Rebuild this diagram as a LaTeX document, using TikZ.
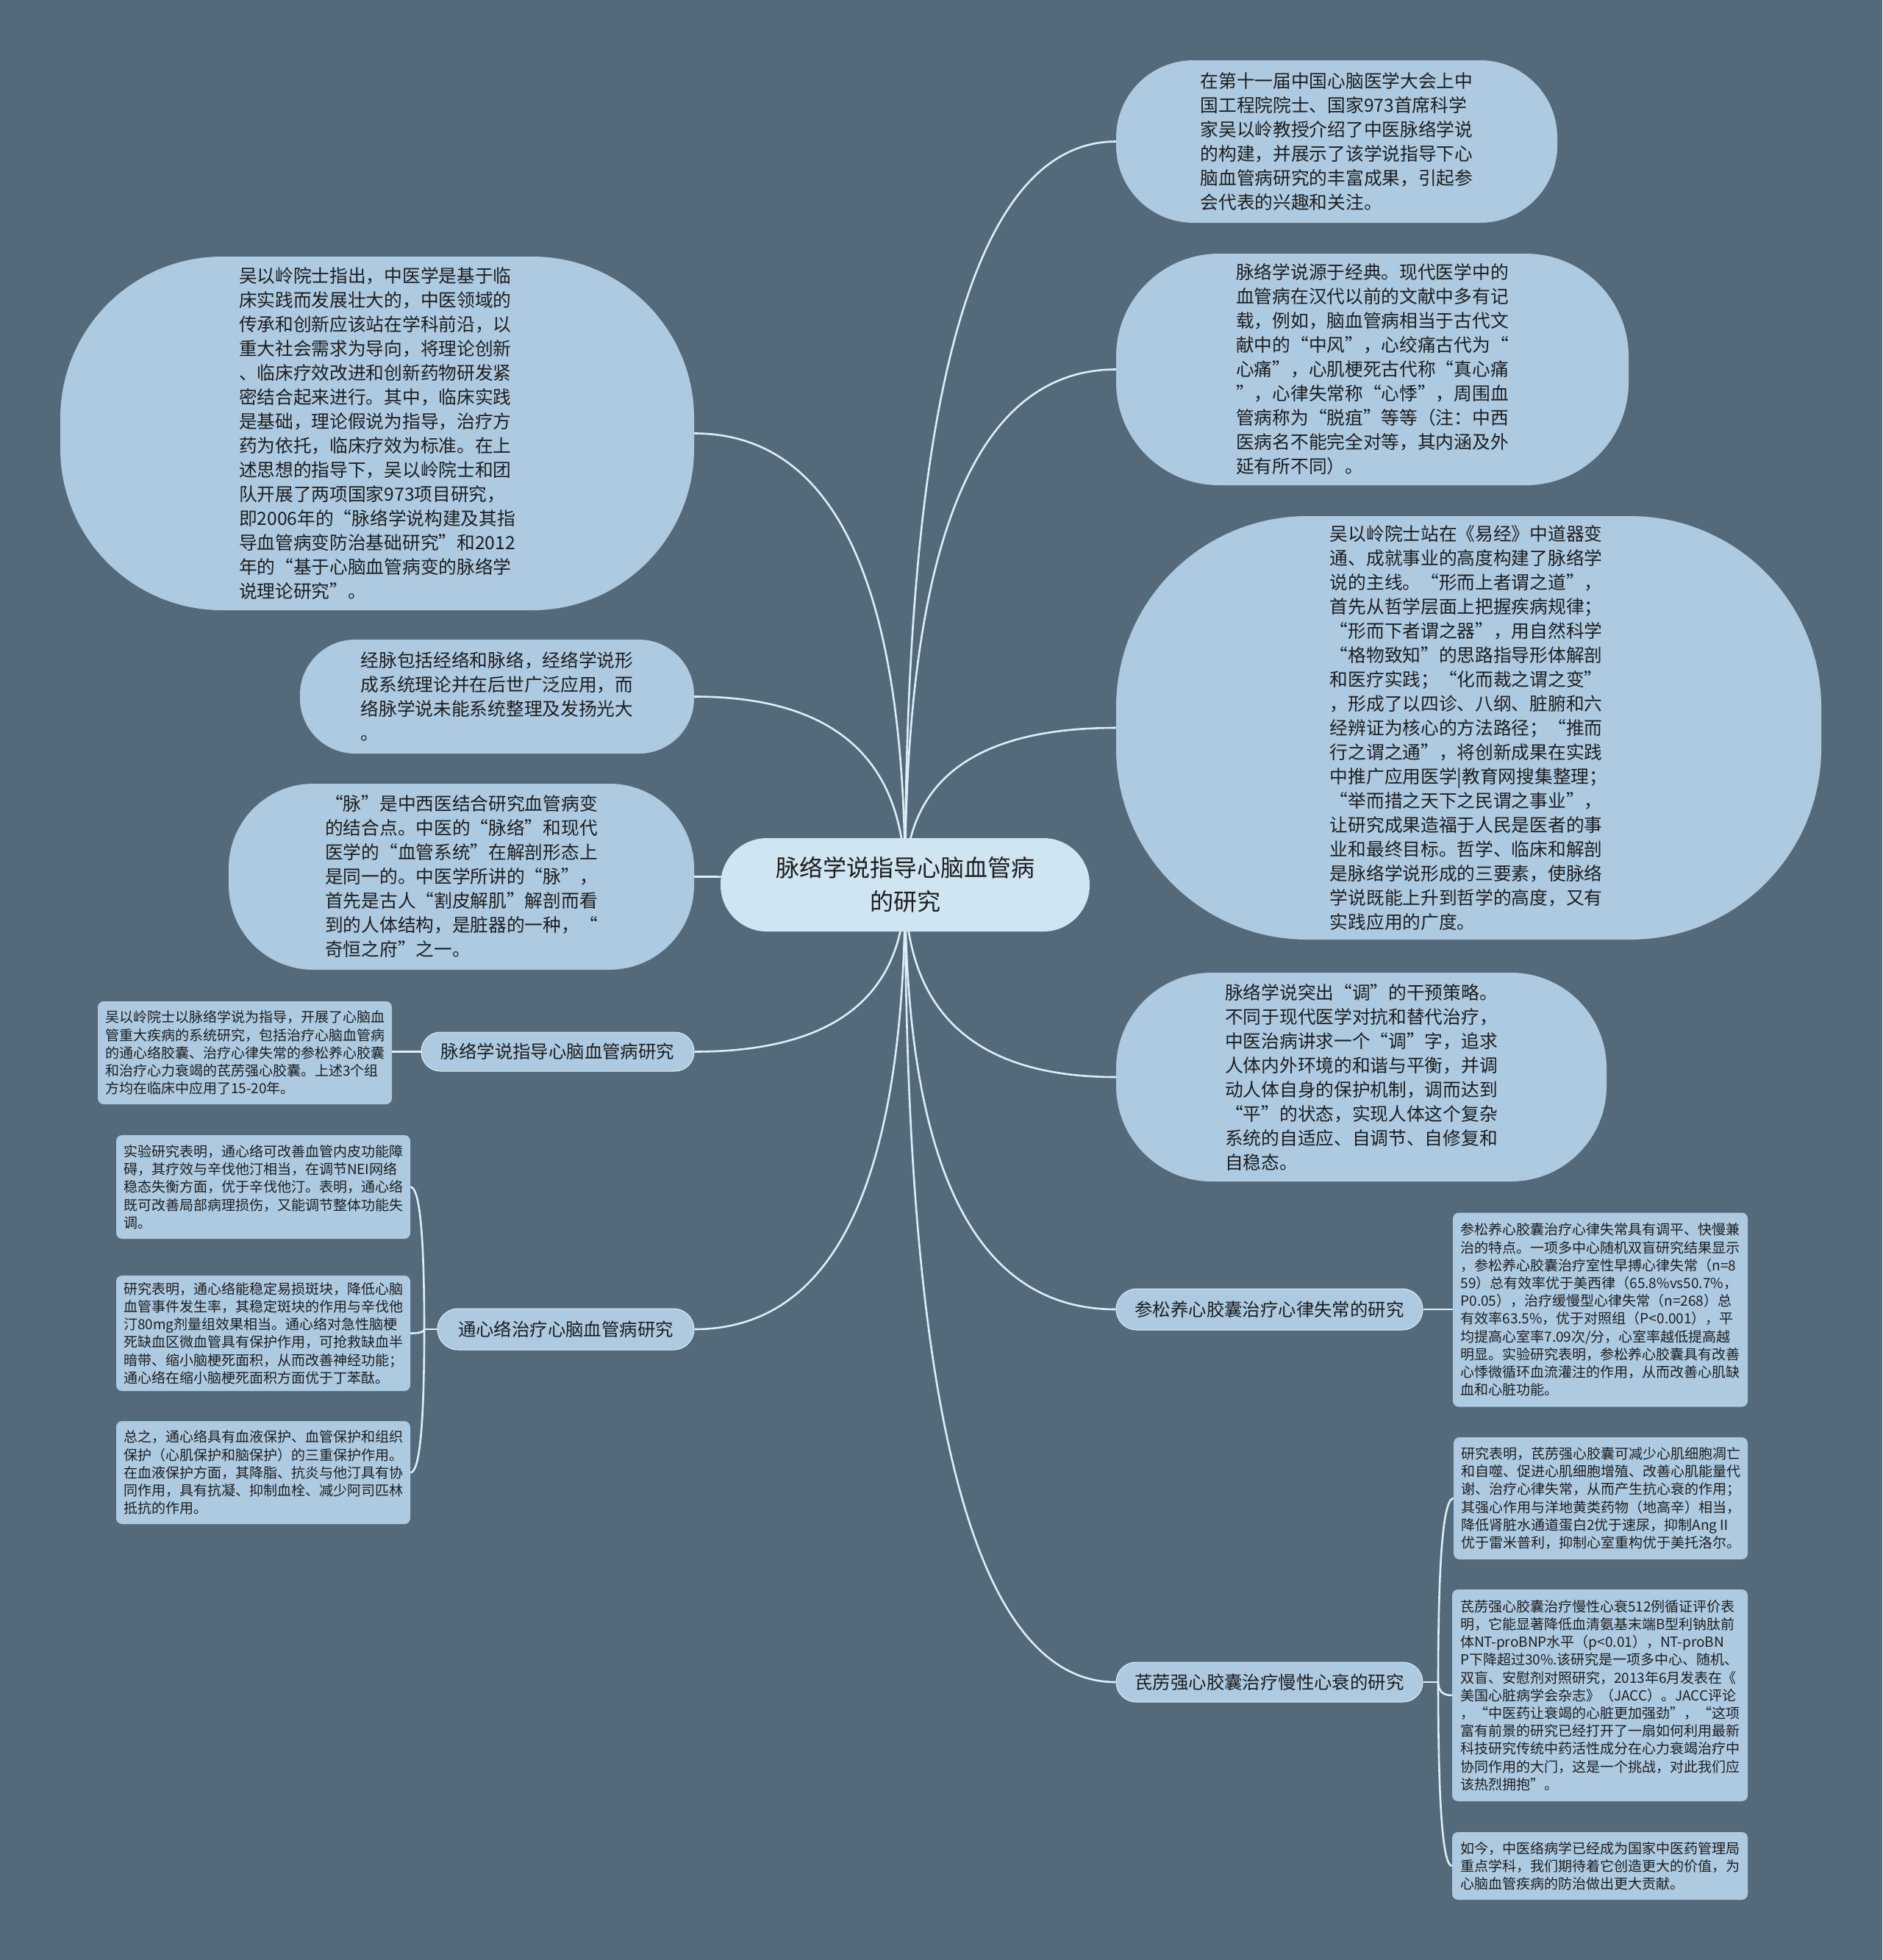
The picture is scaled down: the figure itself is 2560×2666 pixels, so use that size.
\documentclass[tikz,border=0pt]{standalone}
\usepackage{fontspec}
\setmainfont{Noto Sans CJK SC}
\usetikzlibrary{calc}
\definecolor{bgc}{RGB}{84,106,122}
\definecolor{bubc}{RGB}{173,202,225}
\definecolor{cenc}{RGB}{207,229,242}
\definecolor{linec}{RGB}{222,238,246}
\definecolor{txtc}{RGB}{30,30,30}
\pgfdeclarelayer{bglayer}
\pgfsetlayers{bglayer,main}
\newcommand\mmconn[2]{\draw[conn] (#1) .. controls ($(#1)!2/3!(#1|-#2)$) and ($(#2)!2/3!(#1|-#2)$) .. (#2);}
\begin{document}
\begin{tikzpicture}[x=1pt,y=-1pt,
  conn/.style={draw=linec,line width=2.6pt},
  bubble/.style={fill=bubc,draw=none,align=left,text=txtc,inner sep=0pt,font=\fontsize{24.7}{33}\selectfont},
  centerbox/.style={fill=cenc,draw=none,align=center,text=txtc,inner sep=0pt,font=\fontsize{32}{46}\selectfont,rounded corners=63pt},
  labelbox/.style={fill=bubc,draw=linec,line width=1pt,align=center,text=txtc,inner sep=0pt,font=\fontsize{24.4}{30}\selectfont},
  notebox/.style={fill=bubc,draw=none,align=left,text=txtc,inner sep=0pt,rounded corners=8pt,font=\fontsize{19}{24.2}\selectfont}]
\begin{pgfonlayer}{bglayer}
\fill[bgc] (0,0) rectangle (2560,2666);
\end{pgfonlayer}
\useasboundingbox (0,0) rectangle (2560,2666);

% center
\node[centerbox,minimum width=502pt,minimum height=127pt] (c) at (1231,1203.5) {脉络学说指导心脑血管病\\的研究};
\coordinate (cc) at (1231,1203.5);

% right bubbles
\node[bubble,minimum width=600pt,minimum height=221pt,rounded corners=105pt] (r1) at (1818,192.5) {在第十一届中国心脑医学大会上中\\国工程院院士、国家973首席科学\\家吴以岭教授介绍了中医脉络学说\\的构建，并展示了该学说指导下心\\脑血管病研究的丰富成果，引起参\\会代表的兴趣和关注。};
\node[bubble,minimum width=697pt,minimum height=315pt,rounded corners=140pt] (r2) at (1866.5,502.5) {脉络学说源于经典。现代医学中的\\血管病在汉代以前的文献中多有记\\载，例如，脑血管病相当于古代文\\献中的“中风”，心绞痛古代为“\\心痛”，心肌梗死古代称“真心痛\\”，心律失常称“心悸”，周围血\\管病称为“脱疽”等等（注：中西\\医病名不能完全对等，其内涵及外\\延有所不同）。};
\node[bubble,minimum width=959pt,minimum height=576pt,rounded corners=260pt] (r3) at (1997.5,990) {吴以岭院士站在《易经》中道器变\\通、成就事业的高度构建了脉络学\\说的主线。“形而上者谓之道”，\\首先从哲学层面上把握疾病规律；\\“形而下者谓之器”，用自然科学\\“格物致知”的思路指导形体解剖\\和医疗实践；“化而裁之谓之变”\\，形成了以四诊、八纲、脏腑和六\\经辨证为核心的方法路径；“推而\\行之谓之通”，将创新成果在实践\\中推广应用医学|教育网搜集整理；\\“举而措之天下之民谓之事业”，\\让研究成果造福于人民是医者的事\\业和最终目标。哲学、临床和解剖\\是脉络学说形成的三要素，使脉络\\学说既能上升到哲学的高度，又有\\实践应用的广度。};
\node[bubble,minimum width=667pt,minimum height=284pt,rounded corners=130pt] (r4) at (1851.5,1465) {脉络学说突出“调”的干预策略。\\不同于现代医学对抗和替代治疗，\\中医治病讲求一个“调”字，追求\\人体内外环境的和谐与平衡，并调\\动人体自身的保护机制，调而达到\\“平”的状态，实现人体这个复杂\\系统的自适应、自调节、自修复和\\自稳态。};

% left bubbles
\node[bubble,minimum width=862pt,minimum height=481pt,rounded corners=220pt] (l1) at (513,589.5) {吴以岭院士指出，中医学是基于临\\床实践而发展壮大的，中医领域的\\传承和创新应该站在学科前沿，以\\重大社会需求为导向，将理论创新\\、临床疗效改进和创新药物研发紧\\密结合起来进行。其中，临床实践\\是基础，理论假说为指导，治疗方\\药为依托，临床疗效为标准。在上\\述思想的指导下，吴以岭院士和团\\队开展了两项国家973项目研究，\\即2006年的“脉络学说构建及其指\\导血管病变防治基础研究”和2012\\年的“基于心脑血管病变的脉络学\\说理论研究”。};
\node[bubble,minimum width=536pt,minimum height=155pt,rounded corners=75pt] (l2) at (676,947.5) {经脉包括经络和脉络，经络学说形\\成系统理论并在后世广泛应用，而\\络脉学说未能系统整理及发扬光大\\。};
\node[bubble,minimum width=633pt,minimum height=253pt,rounded corners=115pt] (l3) at (627.5,1192.5) {“脉”是中西医结合研究血管病变\\的结合点。中医的“脉络”和现代\\医学的“血管系统”在解剖形态上\\是同一的。中医学所讲的“脉”，\\首先是古人“割皮解肌”解剖而看\\到的人体结构，是脏器的一种，“\\奇恒之府”之一。};

% label nodes
\node[labelbox,minimum width=371pt,minimum height=53pt,rounded corners=26pt] (l4) at (758.5,1430.5) {脉络学说指导心脑血管病研究};
\node[labelbox,minimum width=349pt,minimum height=56pt,rounded corners=28pt] (l5) at (769.5,1808) {通心络治疗心脑血管病研究};
\node[labelbox,minimum width=417pt,minimum height=56pt,rounded corners=28pt] (r5) at (1726.5,1781) {参松养心胶囊治疗心律失常的研究};
\node[labelbox,minimum width=417pt,minimum height=54pt,rounded corners=27pt] (r6) at (1726.5,2288) {芪苈强心胶囊治疗慢性心衰的研究};

% note boxes
\node[notebox,minimum width=400pt,minimum height=140pt] (l4a) at (333,1432) {吴以岭院士以脉络学说为指导，开展了心脑血\\管重大疾病的系统研究，包括治疗心脑血管病\\的通心络胶囊、治疗心律失常的参松养心胶囊\\和治疗心力衰竭的芪苈强心胶囊。上述3个组\\方均在临床中应用了15-20年。};
\node[notebox,minimum width=400pt,minimum height=141pt] (l5a) at (358,1614.5) {实验研究表明，通心络可改善血管内皮功能障\\碍，其疗效与辛伐他汀相当，在调节NEI网络\\稳态失衡方面，优于辛伐他汀。表明，通心络\\既可改善局部病理损伤，又能调节整体功能失\\调。};
\node[notebox,minimum width=400pt,minimum height=157pt] (l5b) at (358,1813.5) {研究表明，通心络能稳定易损斑块，降低心脑\\血管事件发生率，其稳定斑块的作用与辛伐他\\汀80mg剂量组效果相当。通心络对急性脑梗\\死缺血区微血管具有保护作用，可抢救缺血半\\暗带、缩小脑梗死面积，从而改善神经功能；\\通心络在缩小脑梗死面积方面优于丁苯酞。};
\node[notebox,minimum width=400pt,minimum height=140pt] (l5c) at (358,2003) {总之，通心络具有血液保护、血管保护和组织\\保护（心肌保护和脑保护）的三重保护作用。\\在血液保护方面，其降脂、抗炎与他汀具有协\\同作用，具有抗凝、抑制血栓、减少阿司匹林\\抵抗的作用。};
\node[notebox,minimum width=401pt,minimum height=264pt] (r5a) at (2176.5,1781.5) {参松养心胶囊治疗心律失常具有调平、快慢兼\\治的特点。一项多中心随机双盲研究结果显示\\，参松养心胶囊治疗室性早搏心律失常（n=8\\59）总有效率优于美西律（65.8\%vs50.7\%，\\P0.05），治疗缓慢型心律失常（n=268）总\\有效率63.5\%，优于对照组（P<0.001），平\\均提高心室率7.09次/分，心室率越低提高越\\明显。实验研究表明，参松养心胶囊具有改善\\心悸微循环血流灌注的作用，从而改善心肌缺\\血和心脏功能。};
\node[notebox,minimum width=400pt,minimum height=166pt] (r6a) at (2177,2038) {研究表明，芪苈强心胶囊可减少心肌细胞凋亡\\和自噬、促进心肌细胞增殖、改善心肌能量代\\谢、治疗心律失常，从而产生抗心衰的作用；\\其强心作用与洋地黄类药物（地高辛）相当，\\降低肾脏水通道蛋白2优于速尿，抑制AngⅡ\\优于雷米普利，抑制心室重构优于美托洛尔。};
\node[notebox,minimum width=402pt,minimum height=288pt] (r6b) at (2176,2306) {芪苈强心胶囊治疗慢性心衰512例循证评价表\\明，它能显著降低血清氨基末端B型利钠肽前\\体NT-proBNP水平（p<0.01），NT-proBN\\P下降超过30\%.该研究是一项多中心、随机、\\双盲、安慰剂对照研究，2013年6月发表在《\\美国心脏病学会杂志》（JACC）。JACC评论\\，“中医药让衰竭的心脏更加强劲”，“这项\\富有前景的研究已经打开了一扇如何利用最新\\科技研究传统中药活性成分在心力衰竭治疗中\\协同作用的大门，这是一个挑战，对此我们应\\该热烈拥抱”。};
\node[notebox,minimum width=402pt,minimum height=92pt] (r6c) at (2176,2538) {如今，中医络病学已经成为国家中医药管理局\\重点学科，我们期待着它创造更大的价值，为\\心脑血管疾病的防治做出更大贡献。};

% connectors
\coordinate (s5) at (577,1808);
\coordinate (s6) at (1956,2288);
\begin{pgfonlayer}{bglayer}
\mmconn{cc}{r1.west}
\mmconn{cc}{r2.west}
\mmconn{cc}{r3.west}
\mmconn{cc}{r4.west}
\mmconn{cc}{r5.west}
\mmconn{cc}{r6.west}
\mmconn{cc}{l1.east}
\mmconn{cc}{l2.east}
\mmconn{cc}{l3.east}
\mmconn{cc}{l4.east}
\mmconn{cc}{l5.east}
\draw[conn] (l4.west) -- (l4.west-|l4a.east);
\draw[conn] (r5.east) -- (r5.east-|r5a.west);
\draw[conn] (l5.west) -- (s5);
\mmconn{s5}{l5a.east}
\mmconn{s5}{l5b.east}
\mmconn{s5}{l5c.east}
\draw[conn] (r6.east) -- (s6);
\mmconn{s6}{r6a.west}
\mmconn{s6}{r6b.west}
\mmconn{s6}{r6c.west}
\end{pgfonlayer}
\end{tikzpicture}
\end{document}
